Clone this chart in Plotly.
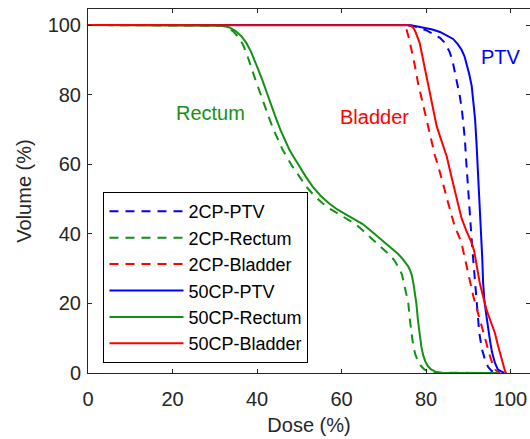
import plotly.graph_objects as go

# ---- data (dose %, volume %) ----
ptv2_dose = [0, 75, 77, 78.5, 80, 81.3, 82.4, 83.3, 84.5, 85.6, 86.3, 86.9, 87.5, 88, 88.5, 88.9, 89.2, 89.5, 89.8, 90.1, 90.4, 90.7, 91, 91.4, 91.8, 92.1, 92.6, 93.2, 93.9, 94.7, 95.5, 96.3, 97]
ptv2_vol = [100, 100, 99.7, 99.2, 98.5, 97.7, 97, 96.3, 94.8, 92.2, 89.5, 86, 82.5, 79.5, 75.5, 71, 67, 61, 55, 50, 44, 40, 35, 29, 22, 17, 11.5, 7, 4, 1.7, 0.6, 0.2, 0]

rect2_dose = [0, 30.4, 31.8, 33.2, 34.5, 35.6, 36.6, 37.4, 38.1, 38.8, 39.7, 40.7, 41.9, 43, 44, 45, 46, 47, 48.4, 50, 51.7, 53.5, 55.5, 57.5, 59.5, 61.5, 63.3, 65, 67, 69, 70.5, 71.5, 72.5, 73.2, 73.8, 74.3, 74.8, 75.3, 75.8, 76.2, 76.6, 77, 77.5, 78.1, 78.8, 79.6, 80.5, 81.7, 95]
rect2_vol = [100, 100, 99.8, 99.2, 98, 96.5, 94.5, 92.3, 90, 87.2, 84, 80.5, 76.5, 72.8, 69.7, 66.8, 64.3, 62.2, 59.3, 56.5, 53.5, 51, 48.8, 47, 45.6, 44.3, 42.8, 41, 38.8, 36.6, 35, 33.8, 32.4, 31, 29.7, 28.3, 25.8, 22.8, 20.1, 15, 10.5, 7.5, 5.2, 3.4, 2, 1, 0.4, 0.1, 0]

blad2_dose = [0, 74, 74.8, 75.4, 76, 76.6, 77.4, 78.1, 78.9, 79.7, 80.5, 81.3, 82.1, 82.9, 83.7, 84.5, 85.2, 86, 86.8, 87.6, 88.4, 89, 89.6, 90.4, 91.2, 92, 92.7, 93.5, 94.3, 95.1, 95.9, 96.5, 97.1, 97.5]
blad2_vol = [100, 100, 99.6, 98.6, 96, 92.9, 88, 83.3, 79, 74.7, 70.5, 66.1, 62.5, 59.4, 56, 52.7, 49, 45.5, 42.1, 39.8, 37.4, 34, 30.6, 26.5, 22, 18.5, 15.3, 12, 8.6, 5, 1.9, 0.8, 0.3, 0]

ptv50_dose = [0, 76, 78, 79.7, 81.5, 83.3, 85, 86.4, 87.5, 88.4, 89.1, 89.6, 90.2, 90.8, 91.2, 91.6, 91.9, 92.2, 92.5, 92.7, 93, 93.1, 93.3, 93.5, 93.8, 94.3, 94.7, 95.1, 95.6, 96.3, 97, 97.9, 98.5]
ptv50_vol = [100, 100, 99.6, 99.2, 98.7, 98, 97, 96, 94.5, 92.9, 91, 89, 86, 82.5, 78, 73, 67, 60, 54, 49.8, 44, 40, 33, 26, 21, 16.3, 12.5, 9.6, 6, 2.9, 1, 0.3, 0]

rect50_dose = [0, 30.4, 32, 33.5, 35, 36.3, 37.5, 38.5, 39.4, 40.3, 41.3, 42.3, 43.5, 44.6, 45.6, 46.6, 47.6, 48.6, 50, 51.5, 53.2, 55, 57, 59, 61, 63, 65, 67, 69, 71, 72.5, 73.4, 74.3, 75, 75.7, 76.2, 76.6, 77, 77.4, 77.7, 78.1, 78.5, 78.9, 79.3, 79.8, 80.4, 81.2, 82.2, 83.5, 97]
rect50_vol = [100, 100, 99.8, 99.3, 98.2, 96.8, 94.8, 92.5, 90, 87.2, 84, 80.5, 76.5, 72.8, 69.7, 66.8, 64.3, 62.2, 59.3, 56.5, 53.5, 51, 48.8, 47, 45.6, 44.3, 42.8, 40.8, 38.8, 36.8, 35.2, 34.2, 33, 32, 30.8, 29.6, 28.2, 25.8, 22.7, 20.1, 15, 10.5, 7.5, 5.2, 3.4, 2, 1, 0.4, 0.1, 0]

blad50_dose = [0, 75, 76, 76.6, 77.1, 77.5, 78.5, 79.3, 80.1, 81, 81.7, 82.5, 83.3, 84.3, 84.9, 85.8, 86.8, 87.6, 88.4, 89.5, 90.8, 91.4, 92.1, 92.7, 93.5, 94.3, 95.3, 96.3, 97, 97.5, 98.1, 98.7, 99]
blad50_vol = [100, 100, 99.9, 99.6, 99, 98, 94.8, 90, 85.2, 80, 75.7, 71, 68, 64, 62.2, 57.5, 52.5, 48, 44.5, 41, 37.4, 35, 30, 25.9, 22, 18.2, 14.8, 11.5, 8, 5.7, 3, 0.5, 0]

x_ticks = [0, 20, 40, 60, 80, 100]
y_ticks = [0, 20, 40, 60, 80, 100]

BLUE = "rgb(0,0,255)"
GREEN = "rgb(20,145,20)"
RED = "rgb(255,0,0)"
FONT = "Liberation Sans, Arial, Helvetica, sans-serif"

fig = go.Figure()
series = [
    ("2CP-PTV", ptv2_dose, ptv2_vol, BLUE, "9px,7px"),
    ("2CP-Rectum", rect2_dose, rect2_vol, GREEN, "9px,7px"),
    ("2CP-Bladder", blad2_dose, blad2_vol, RED, "9px,7px"),
    ("50CP-PTV", ptv50_dose, ptv50_vol, BLUE, "solid"),
    ("50CP-Rectum", rect50_dose, rect50_vol, GREEN, "solid"),
    ("50CP-Bladder", blad50_dose, blad50_vol, RED, "solid"),
]
for name, xs, ys, col, dash in series:
    fig.add_trace(go.Scatter(x=xs, y=ys, name=name, mode="lines",
                             line=dict(color=col, width=2, dash=dash)))

# labels
fig.add_annotation(x=28.9, y=74.8, text="Rectum", showarrow=False,
                   font=dict(color=GREEN, size=20, family=FONT))
fig.add_annotation(x=67.8, y=73.7, text="Bladder", showarrow=False,
                   font=dict(color=RED, size=20, family=FONT))
fig.add_annotation(x=97.7, y=90.7, text="PTV", showarrow=False,
                   font=dict(color=BLUE, size=20, family=FONT))

axis_common = dict(showgrid=False, zeroline=False, showline=True, linecolor="#262626",
                   linewidth=1, mirror="ticks", ticks="inside", ticklen=4, tickcolor="#262626",
                   tickfont=dict(size=20, color="#262626", family=FONT))
fig.update_xaxes(range=[0, 104.6], tickvals=x_ticks, ticklabelstandoff=8,
                 title=dict(text="Dose (%)", font=dict(size=20, color="#262626", family=FONT), standoff=8),
                 **axis_common)
fig.update_yaxes(range=[0, 104.6], tickvals=y_ticks, ticklabelstandoff=2,
                 title=dict(text="Volume (%)", font=dict(size=20, color="#262626", family=FONT), standoff=10),
                 **axis_common)

fig.update_layout(
    width=530, height=439,
    margin=dict(l=88, r=0, t=9, b=66),
    paper_bgcolor="white", plot_bgcolor="white",
    font=dict(family=FONT),
    legend=dict(x=0.035, y=0.497, xanchor="left", yanchor="top",
                bgcolor="white", bordercolor="black", borderwidth=1,
                font=dict(size=18, color="black", family=FONT),
                itemwidth=74, tracegroupgap=0),
)

fig.write_html("out.html")
